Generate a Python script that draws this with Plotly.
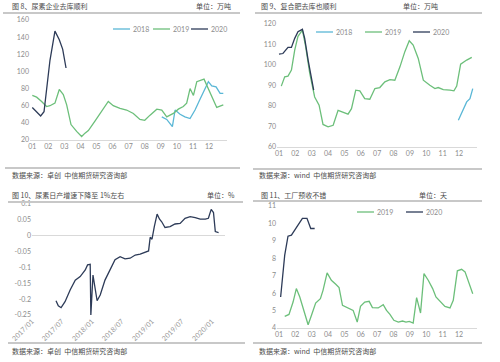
import plotly.graph_objects as go

W, H = 500, 362
FONT = "Noto Sans CJK SC"
NUMFONT = "Lato"
C18 = "#5ab7d6"
C19 = "#6cbf7a"
C20 = "#2d3b58"

months = [1, 2, 3, 4, 5, 6, 7, 8, 9, 10, 11, 12]
month_labels = ["01", "02", "03", "04", "05", "06", "07", "08", "09", "10", "11", "12"]

# Panel 1: urea enterprise inventory (万吨)
p1_m18 = [9.06, 9.37, 9.72, 9.89, 10.2, 10.5, 10.82, 11.13, 11.44, 11.75, 11.96, 12.17, 12.44, 12.69, 12.89]
p1_v18 = [47, 44, 35.5, 55, 50, 47, 45, 55, 67.5, 80, 88, 83, 82, 74.5, 74.5]
p1_m19 = [1.0, 1.27, 1.58, 1.89, 2.1, 2.41, 2.68, 2.93, 3.14, 3.41, 3.76, 4.07, 4.28, 4.49, 4.9, 5.32,
          5.73, 6.04, 6.46, 6.87, 7.29, 7.7, 8.0, 8.33, 8.75, 9.06, 9.37, 9.78, 10.09, 10.4, 10.61,
          10.82, 11.03, 11.24, 11.44, 11.69, 12.48, 12.89]
p1_v19 = [72, 70, 65, 59, 60, 63, 79, 73, 61, 38, 30, 24, 28, 31, 42, 53, 65, 60, 57, 55, 51, 44, 43,
          49, 56, 55, 47, 51, 56, 59, 63, 80, 72, 88, 89, 91, 58, 61]
p1_m20 = [1.0, 1.52, 1.73, 2.1, 2.41, 2.68, 2.89, 3.1]
p1_v20 = [58, 48, 53, 113, 147, 137, 126, 104]

# Panel 2: compound fertilizer inventory (万吨)
p2_m18 = [11.96, 12.27, 12.47, 12.67, 12.84]
p2_v18 = [73, 78.7, 82, 83.6, 88.5]
p2_m19 = [1.14, 1.35, 1.55, 1.76, 1.96, 2.16, 2.43, 2.63, 2.88, 3.18, 3.45, 3.69, 4.0, 4.31, 4.61, 4.92,
          5.22, 5.43, 5.69, 5.94, 6.24, 6.55, 6.86, 7.16, 7.47, 7.78, 8.08, 8.39, 8.69, 8.96, 9.2, 9.51,
          9.82, 10.22, 10.53, 10.73, 11.04, 11.45, 11.69, 11.86, 12.1, 12.47, 12.78]
p2_v19 = [89.7, 94.2, 94.6, 97.5, 107.3, 114, 117, 109, 95.9, 84.4, 80.4, 71, 69.8, 70.6, 77.9, 77.1,
          76, 78.7, 87.7, 87.4, 83.6, 83.3, 88.5, 89, 91.8, 92.9, 92.6, 99.1, 106.5, 111.8, 109.7, 103.2,
          92.6, 90.1, 88.5, 89, 88, 87.7, 87.4, 89.7, 100.4, 102.4, 103.7]
p2_m20 = [1.0, 1.24, 1.55, 1.76, 1.96, 2.16, 2.43, 2.57, 2.78, 2.98, 3.12]
p2_v20 = [105.3, 105.6, 108.6, 108.6, 113, 116.2, 117.4, 113, 102.4, 93.4, 87.7]

# Panel 3: urea daily output growth (%)
p3_dates = ["2017-05-27", "2017-06-10", "2017-06-27", "2017-07-21", "2017-08-21", "2017-09-21",
            "2017-10-21", "2017-11-21", "2017-12-05", "2017-12-21", "2017-12-25", "2018-01-07",
            "2018-02-01", "2018-02-20", "2018-03-21", "2018-04-21", "2018-05-21", "2018-06-21",
            "2018-07-21", "2018-08-21", "2018-09-21", "2018-10-21", "2018-12-01", "2018-12-11",
            "2018-12-21", "2019-01-01", "2019-01-15", "2019-02-01", "2019-02-16", "2019-03-01",
            "2019-03-21", "2019-04-21", "2019-05-21", "2019-06-21", "2019-07-21", "2019-08-21",
            "2019-09-21", "2019-10-21", "2019-11-21", "2019-12-10", "2019-12-27", "2020-01-10",
            "2020-01-21", "2020-02-10"]
p3_vals = [-0.205, -0.221, -0.227, -0.208, -0.171, -0.14, -0.129, -0.108, -0.092, -0.09, -0.25,
           -0.124, -0.205, -0.187, -0.14, -0.106, -0.076, -0.066, -0.073, -0.071, -0.061, -0.058,
           -0.05, -0.048, -0.005, -0.011, 0.029, 0.068, 0.052, 0.044, 0.026, 0.029, 0.037, 0.039,
           0.055, 0.06, 0.057, 0.052, 0.052, 0.055, 0.083, 0.073, 0.013, 0.01]
p3_ticks = ["2017-01-01", "2017-07-01", "2018-01-01", "2018-07-01", "2019-01-01", "2019-07-01", "2020-01-01"]
p3_ticktext = ["2017/01", "2017/07", "2018/01", "2018/07", "2019/01", "2019/07", "2020/01"]
p3_yticks = [0.1, 0.05, 0, -0.05, -0.1, -0.15, -0.2, -0.25]
p3_yticktext = ["0.1", "0.05", "0", "-0.05", "-0.1", "-0.15", "-0.2", "-0.25"]

# Panel 4: factory pre-receipt days (天)
p4_m19 = [1.35, 1.61, 1.86, 2.06, 2.27, 2.53, 2.78, 2.98, 3.24, 3.53, 3.69, 3.94, 4.2, 4.47, 4.67, 4.88,
          5.22, 5.53, 5.78, 5.98, 6.24, 6.51, 6.71, 7.06, 7.37, 7.57, 7.78, 8.02, 8.29, 8.55, 8.76, 8.96,
          9.2, 9.41, 9.65, 9.86, 10.12, 10.39, 10.59, 10.84, 11.14, 11.45, 11.65, 11.9, 12.16, 12.37,
          12.57, 12.84]
p4_v19 = [4.67, 4.78, 5.49, 6.26, 5.78, 4.92, 4.19, 4.72, 5.43, 5.68, 6.16, 7.16, 6.74, 6.51, 6.32, 5.3,
          5.17, 5.01, 4.34, 5.24, 5.49, 5.53, 5.17, 5.15, 5.34, 5.01, 4.78, 4.44, 4.34, 4.4, 4.34, 4.38,
          4.28, 5.74, 4.86, 7.12, 6.74, 6.26, 5.78, 5.55, 5.24, 5.15, 5.59, 7.28, 7.37, 7.22, 6.64, 5.97]
p4_m20 = [1.1, 1.35, 1.55, 1.76, 1.96, 2.22, 2.43, 2.71, 2.94, 3.18]
p4_v20 = [5.78, 8.18, 9.27, 9.33, 9.62, 10.0, 10.29, 10.29, 9.71, 9.71]


def fx(px):
    return px / W


def fy(py):
    return 1 - py / H


fig = go.Figure()
LW = 1.3

traces = [
    (p1_m18, p1_v18, "2018", C18, "x", "y"),
    (p1_m19, p1_v19, "2019", C19, "x", "y"),
    (p1_m20, p1_v20, "2020", C20, "x", "y"),
    (p2_m18, p2_v18, "2018", C18, "x2", "y2"),
    (p2_m19, p2_v19, "2019", C19, "x2", "y2"),
    (p2_m20, p2_v20, "2020", C20, "x2", "y2"),
    (p3_dates, p3_vals, "增速", C20, "x3", "y3"),
    (p4_m19, p4_v19, "2019", C19, "x4", "y4"),
    (p4_m20, p4_v20, "2020", C20, "x4", "y4"),
]
for xs, ys, nm, col, xa, ya in traces:
    fig.add_trace(go.Scatter(x=xs, y=ys, mode="lines", name=nm, line=dict(color=col, width=LW),
                             xaxis=xa, yaxis=ya, showlegend=False))

tickfont = dict(family=NUMFONT, size=7, color="#8c8c8c")
axcommon = dict(showgrid=False, zeroline=False, ticks="", tickfont=tickfont, fixedrange=True,
                automargin=False)
xmonth = dict(axcommon, tickmode="array", tickvals=months, ticktext=month_labels,
              showline=True, linecolor="#d9d9d9", linewidth=1)

fig.update_layout(
    width=W, height=H, margin=dict(l=0, r=0, t=0, b=0, autoexpand=False),
    paper_bgcolor="white", plot_bgcolor="white", showlegend=False,
    xaxis=dict(xmonth, domain=[fx(30), fx(227)], range=[0.857, 13.12], anchor="y"),
    yaxis=dict(axcommon, domain=[fy(140), fy(20)], range=[20, 160], dtick=20, anchor="x"),
    xaxis2=dict(xmonth, domain=[fx(277), fx(477)], range=[0.878, 13.1], anchor="y2"),
    yaxis2=dict(axcommon, domain=[fy(147), fy(24)], range=[60, 120], dtick=10, anchor="x2"),
    xaxis3=dict(axcommon, type="date", domain=[fx(32), fx(225)], range=["2017-01-01", "2020-03-20"],
                tickmode="array", tickvals=p3_ticks, ticktext=p3_ticktext, tickangle=-45,
                tickfont=dict(family=NUMFONT, size=7, color="#9a9a9a"), anchor="y3"),
    yaxis3=dict(axcommon, domain=[fy(315), fy(204)], range=[-0.25, 0.1], tickmode="array",
                tickvals=p3_yticks, ticktext=p3_yticktext,
                zeroline=True, zerolinecolor="#d9d9d9", zerolinewidth=1, anchor="x3"),
    xaxis4=dict(xmonth, domain=[fx(277), fx(477)], range=[0.878, 13.1], anchor="y4"),
    yaxis4=dict(axcommon, domain=[fy(328), fy(206)], range=[4, 11], dtick=1, anchor="x4"),
)

TITLE_FONT = dict(family=FONT, size=7, color="#4a4a4a")
texts = [
    (10, 6, "图 8、尿素企业去库顺利", "left"),
    (233, 6, "单位：万吨", "right"),
    (259, 6, "图 9、复合肥去库也顺利", "left"),
    (440, 6, "单位：万吨", "right"),
    (10, 175, "数据来源：卓创  中信期货研究咨询部", "left"),
    (257, 175, "数据来源：wind  中信期货研究咨询部", "left"),
    (10, 195, "图 10、尿素日产增速下降至 1%左右", "left"),
    (237, 195, "单位：%", "right"),
    (259, 195, "图 11、工厂预收不错", "left"),
    (449, 195, "单位：天", "right"),
    (10, 351, "数据来源：卓创  中信期货研究咨询部", "left"),
    (257, 351, "数据来源：wind  中信期货研究咨询部", "left"),
]
for px, py, t, al in texts:
    fig.add_annotation(x=fx(px), y=fy(py), xref="paper", yref="paper", text=t, showarrow=False,
                       xanchor=al, yanchor="middle", font=TITLE_FONT)

rules = [(3, 240, 13), (255, 482, 13), (5, 240, 168), (253, 482, 169),
         (8, 243, 202), (253, 482, 201), (8, 245, 343), (253, 482, 343)]
for x0, x1, py in rules:
    fig.add_shape(type="line", xref="paper", yref="paper", x0=fx(x0), x1=fx(x1), y0=fy(py), y1=fy(py),
                  line=dict(color="#c8c8c8", width=2))

# Legend keys (sample line + label) for each panel
legend_items = [
    (113, 29, "2018", C18), (153, 29, "2019", C19), (191, 29, "2020", C20),
    (316, 32, "2018", C18), (365, 32, "2019", C19), (413, 32, "2020", C20),
    (357, 212, "2019", C19), (406, 212, "2020", C20),
]
LEG_FONT = dict(family=NUMFONT, size=7, color="#8c8c8c")
for px, py, lab, col in legend_items:
    fig.add_shape(type="line", xref="paper", yref="paper", x0=fx(px), x1=fx(px + 17),
                  y0=fy(py), y1=fy(py), line=dict(color=col, width=1.3))
    fig.add_annotation(x=fx(px + 18), y=fy(py), xref="paper", yref="paper", text=lab, showarrow=False,
                       xanchor="left", yanchor="middle", font=LEG_FONT)

fig.write_html("out.html", config={"displayModeBar": False},
               post_script="document.body.style.margin='0';document.body.style.overflow='hidden';")
